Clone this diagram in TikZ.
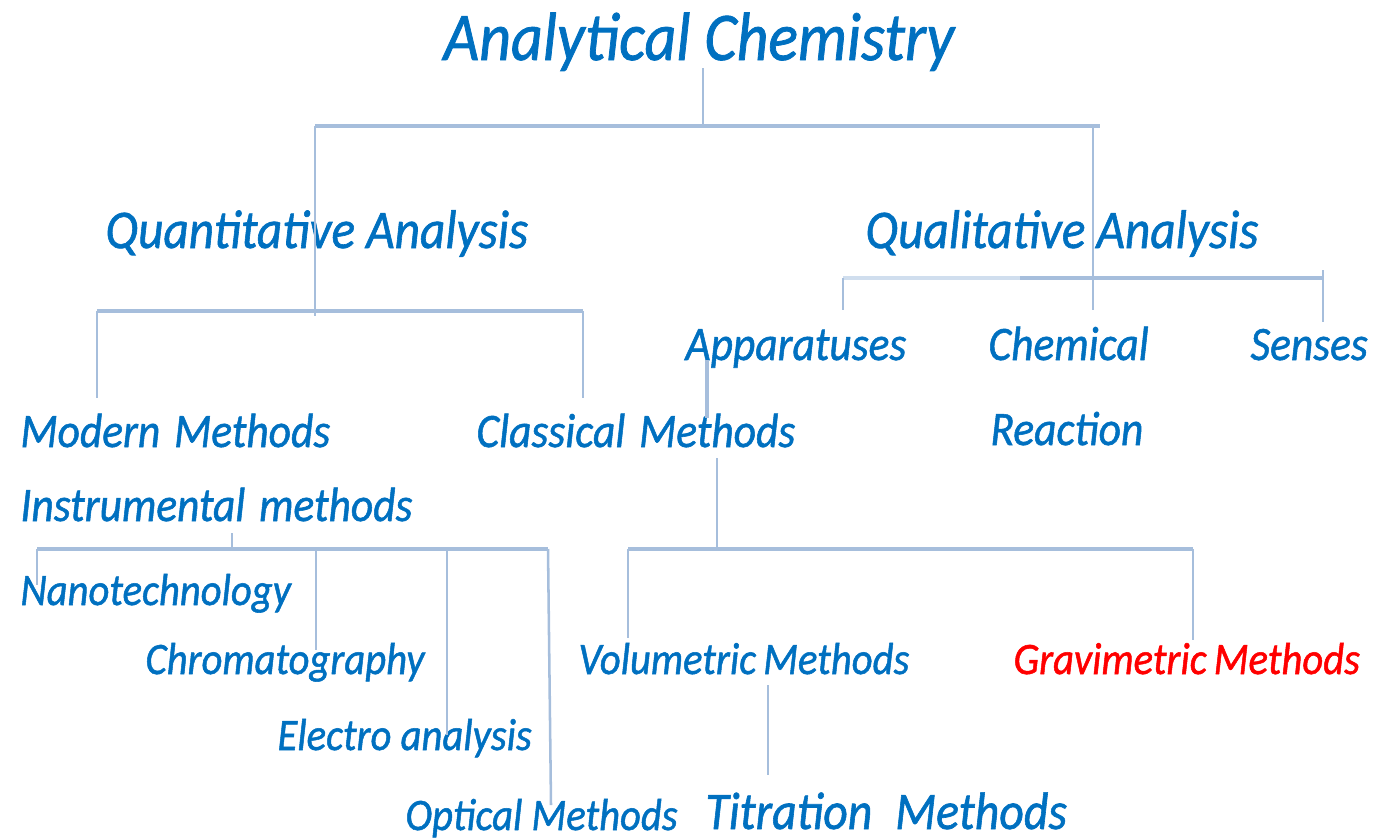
\documentclass[tikz,border=0pt]{standalone}
\usepackage{fontspec}
\usepackage{graphicx}
\setmainfont{Carlito}[ItalicFeatures={FakeBold=1.2}]
\definecolor{txtblue}{RGB}{0,112,192}
\definecolor{txtred}{RGB}{255,0,0}
\definecolor{linkblue}{RGB}{166,190,220}
\definecolor{linkpale}{RGB}{208,222,238}
\newcommand{\sq}[1]{\scalebox{0.905}[1]{#1}}
\newcommand{\gap}{\hspace{0.32em}}
\tikzset{every picture/.style={line width=0.75pt}}

\begin{document}
\begin{tikzpicture}[
                x=0.75pt,
                y=0.75pt,
                yscale=-1,
                xscale=1,
                lbl/.style={anchor=base west, inner sep=0pt, text=txtblue},
                toplbl/.style={lbl, font=\itshape\fontsize{51.2}{56}\selectfont},
                onelbl/.style={lbl, font=\itshape\fontsize{40.8}{46}\selectfont},
                twolbl/.style={lbl, font=\itshape\fontsize{36}{40}\selectfont},
                threelbl/.style={lbl, font=\itshape\fontsize{33.7}{38}\selectfont},
                link/.style={draw=linkblue, line width=1.9pt},
                bus/.style={draw=linkblue, line width=2.4pt}
            ]
                \useasboundingbox (0,0) rectangle (1373,839);

                % labels
                \node[toplbl] (title) at (443,60) {\sq{Analytical Chemistry}};
                \node[onelbl] (quant) at (105,248) {\sq{Quantitative Analysis}};
                \node[onelbl] (qual) at (865,248) {\sq{Qualitative Analysis}};
                \node[twolbl] (appar) at (685,360) {\sq{Apparatuses}};
                \node[twolbl] (chem) at (988,360) {\sq{Chemical}};
                \node[twolbl] (react) at (990,445) {\sq{Reaction}};
                \node[twolbl] (senses) at (1250,360) {\sq{Senses}};
                \node[twolbl] (modern) at (20,447) {\sq{Modern\gap Methods}};
                \node[twolbl] (classical) at (476,447) {\sq{Classical\gap Methods}};
                \node[twolbl] (instr) at (20,521) {\sq{Instrumental\gap methods}};
                \node[threelbl] (nano) at (20,605) {\sq{Nanotechnology}};
                \node[threelbl] (chroma) at (145,674) {\sq{Chromatography}};
                \node[threelbl] (electro) at (277,750) {\sq{Electro analysis}};
                \node[threelbl] (optical) at (405,830) {\sq{Optical Methods}};
                \node[threelbl] (volum) at (578,674) {\sq{Volumetric\kern-0.05em{} Methods}};
                \node[threelbl, text=txtred] (gravi) at (1013,674) {\sq{Gravimetric\kern-0.05em{} Methods}};
                \node[lbl, font=\itshape\fontsize{39.6}{44}\selectfont] (titra) at (705,829) {\sq{Titration\hspace{0.48em}Methods}};

                % junctions
                \coordinate (c0) at (703,68);
                \coordinate (c1) at (703,126);
                \coordinate (qaL) at (315,126);
                \coordinate (qaR) at (1100,126);
                \coordinate (qnEnd) at (315,316);
                \coordinate (qlTop) at (1093,126);
                \coordinate (qlEnd) at (1093,310);
                \coordinate (mL) at (97,311);
                \coordinate (mR) at (583,311);
                \coordinate (sL) at (843,278);
                \coordinate (sM) at (1020,278);
                \coordinate (sR) at (1323,278);
                \coordinate (sR0) at (1323,270);
                \coordinate (sR1) at (1323,322);
                \coordinate (ap0) at (707,360);
                \coordinate (ap1) at (707,418);
                \coordinate (cl0) at (717,458);
                \coordinate (cl1) at (717,549);
                \coordinate (vL) at (628,549);
                \coordinate (vR) at (1193,549);
                \coordinate (ti0) at (768,685);
                \coordinate (ti1) at (768,775);
                \coordinate (in0) at (232,533);
                \coordinate (in1) at (232,549);
                \coordinate (iL) at (37,549);
                \coordinate (iC) at (316,549);
                \coordinate (iE) at (447,549);
                \coordinate (iR) at (548,549);
                \coordinate (iOpt) at (551,805);

                % connectors
                \draw[link] (c0) -- (c1);
                \draw[bus] (qaL) -- (qaR);
                \draw[link] (qaL) -- (qnEnd);
                \draw[link] (qlTop) -- (qlEnd);
                \draw[bus] (mL) -- (mR);
                \draw[link] (mL) -- ++(0,87);
                \draw[link] (mR) -- ++(0,87);
                \draw[bus, draw=linkpale] (sL) -- (sM);
                \draw[bus] (sM) -- (sR);
                \draw[link] (sL) -- ++(0,32);
                \draw[link] (sR0) -- (sR1);
                \draw[link, line width=3.6pt] (ap0) -- (ap1);
                \draw[link] (cl0) -- (cl1);
                \draw[bus] (vL) -- (vR);
                \draw[link] (vL) -- ++(0,89);
                \draw[link] (vR) -- ++(0,91);
                \draw[link] (ti0) -- (ti1);
                \draw[link] (in0) -- (in1);
                \draw[bus] (iL) -- (iR);
                \draw[link] (iL) -- ++(0,36);
                \draw[link] (iC) -- ++(0,101);
                \draw[link] (iE) -- ++(0,186);
                \draw[link] (iR) -- (iOpt);
            \end{tikzpicture}
\end{document}
